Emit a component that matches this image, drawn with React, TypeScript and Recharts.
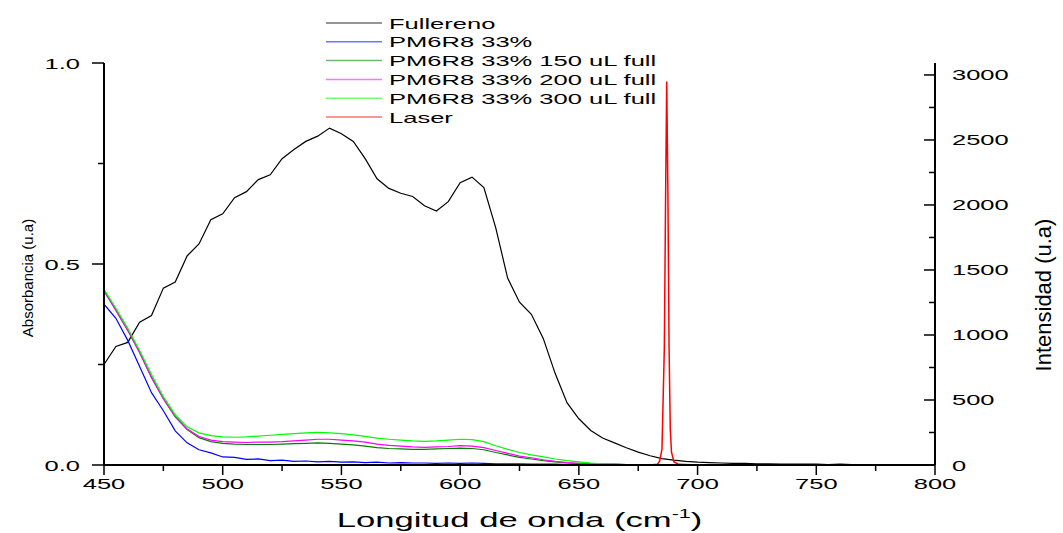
import React from 'react';
import { LineChart, Line, XAxis, YAxis, Legend, Label } from 'recharts';

// wavelength grid (nm) shared by the absorbance curves
const wavelengths = [
  450, 455, 460, 465, 470, 475, 480, 485, 490, 495,
  500, 505, 510, 515, 520, 525, 530, 535, 540, 545,
  550, 555, 560, 565, 570, 575, 580, 585, 590, 595,
  600, 605, 610, 615, 620, 625, 630, 635, 640, 645,
  650, 655, 660, 665, 670, 675, 680, 685, 690, 695,
  700, 705, 710, 715, 720, 725, 730, 735, 740, 745,
  750, 755, 760, 765, 770, 775, 780, 785, 790, 795,
  800,
];

const fullereno = [
  0.25, 0.295, 0.305, 0.355, 0.372, 0.44, 0.455, 0.52, 0.55, 0.61,
  0.625, 0.665, 0.68, 0.71, 0.722, 0.762, 0.785, 0.805, 0.818, 0.838,
  0.824, 0.805, 0.762, 0.712, 0.688, 0.676, 0.668, 0.645, 0.632, 0.655,
  0.702, 0.716, 0.69, 0.59, 0.465, 0.405, 0.375, 0.315, 0.228, 0.155,
  0.115, 0.086, 0.067, 0.055, 0.043, 0.032, 0.023, 0.016, 0.012, 0.009,
  0.007, 0.006, 0.005, 0.004, 0.004, 0.003, 0.003, 0.002, 0.002, 0.002,
  0.002, 0.001, 0.002, 0.001, 0.001, 0.001, 0.001, 0.001, 0.001, 0.001,
  0.001,
];

const pm6r8 = [
  0.4, 0.365, 0.31, 0.245, 0.18, 0.135, 0.085, 0.055, 0.038, 0.03,
  0.02, 0.019, 0.014, 0.015, 0.011, 0.012, 0.009, 0.01, 0.008, 0.009,
  0.007, 0.008, 0.006, 0.007, 0.005, 0.006, 0.005, 0.005, 0.004, 0.005,
  0.004, 0.005, 0.004, 0.003, 0.003, 0.003, 0.002, 0.002, 0.002, 0.001,
  0.002, 0.001, 0.001, 0.002, 0.001, 0.001, 0.001, 0.001, 0.001, 0.001,
  0.001, 0, 0.001, 0, 0.001, 0, 0, 0.001, 0, 0,
  0, 0.001, 0, 0, 0, 0.001, 0, 0, 0, 0,
  0,
];

const pm150 = [
  0.433, 0.385, 0.335, 0.28, 0.218, 0.165, 0.12, 0.088, 0.068, 0.058,
  0.054, 0.052, 0.051, 0.051, 0.051, 0.052, 0.053, 0.054, 0.055, 0.054,
  0.052, 0.05, 0.047, 0.043, 0.041, 0.04, 0.039, 0.039, 0.04, 0.041,
  0.042, 0.041, 0.038, 0.031, 0.025, 0.019, 0.015, 0.011, 0.008, 0.005,
  0.004, 0.003, 0.002, 0.001, 0.001, 0.001, 0, 0, 0, 0,
  0, 0, 0, 0, 0, 0, 0, 0, 0, 0,
  0, 0, 0, 0, 0, 0, 0, 0, 0, 0,
  0,
];

const pm200 = [
  0.433, 0.385, 0.335, 0.28, 0.218, 0.165, 0.121, 0.09, 0.071, 0.062,
  0.058, 0.057, 0.056, 0.057, 0.057, 0.058, 0.06, 0.062, 0.064, 0.064,
  0.062, 0.06, 0.057, 0.052, 0.049, 0.047, 0.045, 0.044, 0.045, 0.046,
  0.048, 0.047, 0.043, 0.036, 0.029, 0.022, 0.018, 0.013, 0.009, 0.006,
  0.004, 0.003, 0.002, 0.001, 0.001, 0.001, 0, 0, 0, 0,
  0, 0, 0, 0, 0, 0, 0, 0, 0, 0,
  0, 0, 0, 0, 0, 0, 0, 0, 0, 0,
  0,
];

const pm300 = [
  0.437, 0.39, 0.34, 0.285, 0.225, 0.17, 0.125, 0.095, 0.08, 0.073,
  0.07, 0.069, 0.07, 0.072, 0.074, 0.076, 0.078, 0.08, 0.081, 0.08,
  0.078, 0.075, 0.071, 0.067, 0.064, 0.062, 0.06, 0.059, 0.06, 0.062,
  0.064, 0.063, 0.058, 0.048, 0.039, 0.031, 0.025, 0.02, 0.015, 0.011,
  0.008, 0.005, 0.003, 0.002, 0.001, 0.001, 0, 0, 0, 0,
  0, 0, 0, 0, 0, 0, 0, 0, 0, 0,
  0, 0, 0, 0, 0, 0, 0, 0, 0, 0,
  0,
];

// laser line, right axis
const laserWl = [450, 560, 600, 650, 680, 683, 684, 685, 686, 686.5, 687, 687.5, 688, 688.5, 689, 690, 692, 700, 750, 800];
const laserInt = [0, 0, 0, 0, 0, 5, 30, 120, 900, 2000, 2950, 2100, 900, 280, 100, 25, 5, 0, 0, 0];

const seriesNames = [
  'Fullereno',
  'PM6R8 33%',
  'PM6R8 33% 150 uL full',
  'PM6R8 33% 200 uL full',
  'PM6R8 33% 300 uL full',
  'Laser',
];

const xTicks = [450, 475, 500, 525, 550, 575, 600, 625, 650, 675, 700, 725, 750, 775, 800];
const xMajor = [450, 500, 550, 600, 650, 700, 750, 800];
const absTicks = [0, 0.25, 0.5, 0.75, 1];
const absMajor = [0, 0.5, 1];
const intTicks = [0, 250, 500, 750, 1000, 1250, 1500, 1750, 2000, 2250, 2500, 2750, 3000];
const intMajor = [0, 500, 1000, 1500, 2000, 2500, 3000];

const absData = wavelengths.map((wl, i) => ({
  wl,
  full: fullereno[i],
  pm: pm6r8[i],
  p150: pm150[i],
  p200: pm200[i],
  p300: pm300[i],
}));
const laserData = laserWl.map((wl, i) => ({ wl, laser: laserInt[i] }));

const FONT = '"Liberation Sans", Arial, sans-serif';

// the original's lettering is stretched sideways
const Wide = ({ x, y, anchor = 'start', size = 15, sx = 1.7, children }: any) => (
  <text
    transform={`translate(${x},${y}) scale(${sx},1)`}
    textAnchor={anchor}
    fontSize={size}
    fontFamily={FONT}
    fill="#000"
  >
    {children}
  </text>
);

const XTick = ({ x, y, payload }: any) => {
  const major = xMajor.includes(payload.value);
  return (
    <g>
      <line x1={x} x2={x} y1={y} y2={y + (major ? 10 : 6)} stroke="#000" strokeWidth={1.5} />
      {major && <Wide x={x} y={y + 24} anchor="middle">{String(payload.value)}</Wide>}
    </g>
  );
};

const LeftTick = ({ x, y, payload }: any) => {
  const major = absMajor.includes(payload.value);
  return (
    <g>
      <line x1={x - (major ? 12 : 6)} x2={x} y1={y} y2={y} stroke="#000" strokeWidth={1.5} />
      {major && <Wide x={x - 24} y={y + 5.5} anchor="end">{payload.value.toFixed(1)}</Wide>}
    </g>
  );
};

const RightTick = ({ x, y, payload }: any) => {
  const major = intMajor.includes(payload.value);
  return (
    <g>
      <line x1={x - (major ? 11 : 6)} x2={x} y1={y} y2={y} stroke="#000" strokeWidth={1.5} />
      {major && <Wide x={x + 17} y={y + 5.5}>{String(payload.value)}</Wide>}
    </g>
  );
};

const XTitle = ({ viewBox }: any) => (
  <text
    transform={`translate(${viewBox.x + viewBox.width / 2},527) scale(1.65,1)`}
    textAnchor="middle"
    fontSize={21}
    fontFamily={FONT}
    fill="#000"
  >
    Longitud de onda (cm
    <tspan fontSize={13} dy={-9}>-1</tspan>
    <tspan dy={9}>)</tspan>
  </text>
);

const LeftTitle = ({ viewBox }: any) => (
  <text
    transform={`translate(${viewBox.x - 17},${viewBox.y + viewBox.height / 2 + 14}) rotate(-90)`}
    textAnchor="middle"
    dominantBaseline="central"
    fontSize={15}
    fontFamily={FONT}
    fill="#000"
  >
    Absorbancia (u.a)
  </text>
);

const RightTitle = ({ viewBox }: any) => (
  <text
    transform={`translate(${viewBox.x + 108},${viewBox.y + viewBox.height / 2 + 31}) rotate(-90)`}
    textAnchor="middle"
    dominantBaseline="central"
    fontSize={22}
    fontFamily={FONT}
    fill="#000"
  >
    Intensidad (u.a)
  </text>
);

const renderLegend = ({ payload }: any) => {
  const items = [...(payload || [])].sort(
    (a: any, b: any) => seriesNames.indexOf(a.value) - seriesNames.indexOf(b.value)
  );
  return (
    <svg width={400} height={130}>
      {items.map((e: any, i: number) => {
        const cy = 23 + i * 18.8;
        return (
          <g key={e.value}>
            <line x1={26} x2={82} y1={cy} y2={cy} stroke={e.color} strokeOpacity={0.55} strokeWidth={1.5} />
            <Wide x={89} y={cy + 5.5} sx={1.68} size={15.2}>{e.value}</Wide>
          </g>
        );
      })}
    </svg>
  );
};

export default function App() {
  return (
    <div style={{ position: 'absolute', left: 0, top: 0, background: '#fff' }}>
      <LineChart
        width={1063}
        height={533}
        data={absData}
        margin={{ top: 63, right: 68, bottom: 38, left: 44 }}
      >
        <XAxis
          dataKey="wl"
          type="number"
          domain={[450, 800]}
          ticks={xTicks}
          interval={0}
          height={30}
          tickSize={0}
          tickMargin={0}
          tickLine={false}
          tick={<XTick />}
          axisLine={{ stroke: '#000', strokeWidth: 2 }}
          allowDataOverflow
        >
          <Label content={<XTitle />} />
        </XAxis>
        <YAxis
          yAxisId="abs"
          domain={[0, 1]}
          ticks={absTicks}
          interval={0}
          width={60}
          tickSize={0}
          tickMargin={0}
          tickLine={false}
          tick={<LeftTick />}
          axisLine={{ stroke: '#000', strokeWidth: 2 }}
        >
          <Label content={<LeftTitle />} />
        </YAxis>
        <YAxis
          yAxisId="int"
          orientation="right"
          domain={[0, 3092]}
          ticks={intTicks}
          interval={0}
          width={60}
          tickSize={0}
          tickMargin={0}
          tickLine={false}
          tick={<RightTick />}
          axisLine={{ stroke: '#000', strokeWidth: 2 }}
          allowDataOverflow
        >
          <Label content={<RightTitle />} />
        </YAxis>
        <Legend
          layout="vertical"
          align="center"
          verticalAlign="middle"
          content={renderLegend}
          wrapperStyle={{ left: 300, top: 0, width: 400, height: 130 }}
        />
        <Line yAxisId="abs" type="linear" dataKey="full" name={seriesNames[0]} stroke="#000000" strokeWidth={1.2} dot={false} isAnimationActive={false} />
        <Line yAxisId="abs" type="linear" dataKey="pm" name={seriesNames[1]} stroke="#0000ff" strokeWidth={1.2} dot={false} isAnimationActive={false} />
        <Line yAxisId="abs" type="linear" dataKey="p150" name={seriesNames[2]} stroke="#008000" strokeWidth={1.2} dot={false} isAnimationActive={false} />
        <Line yAxisId="abs" type="linear" dataKey="p200" name={seriesNames[3]} stroke="#ff00ff" strokeWidth={1.2} dot={false} isAnimationActive={false} />
        <Line yAxisId="abs" type="linear" dataKey="p300" name={seriesNames[4]} stroke="#00ff00" strokeWidth={1.2} dot={false} isAnimationActive={false} />
        <Line yAxisId="int" type="linear" data={laserData} dataKey="laser" name={seriesNames[5]} stroke="#ff0000" strokeWidth={1.5} dot={false} isAnimationActive={false} />
      </LineChart>
    </div>
  );
}
